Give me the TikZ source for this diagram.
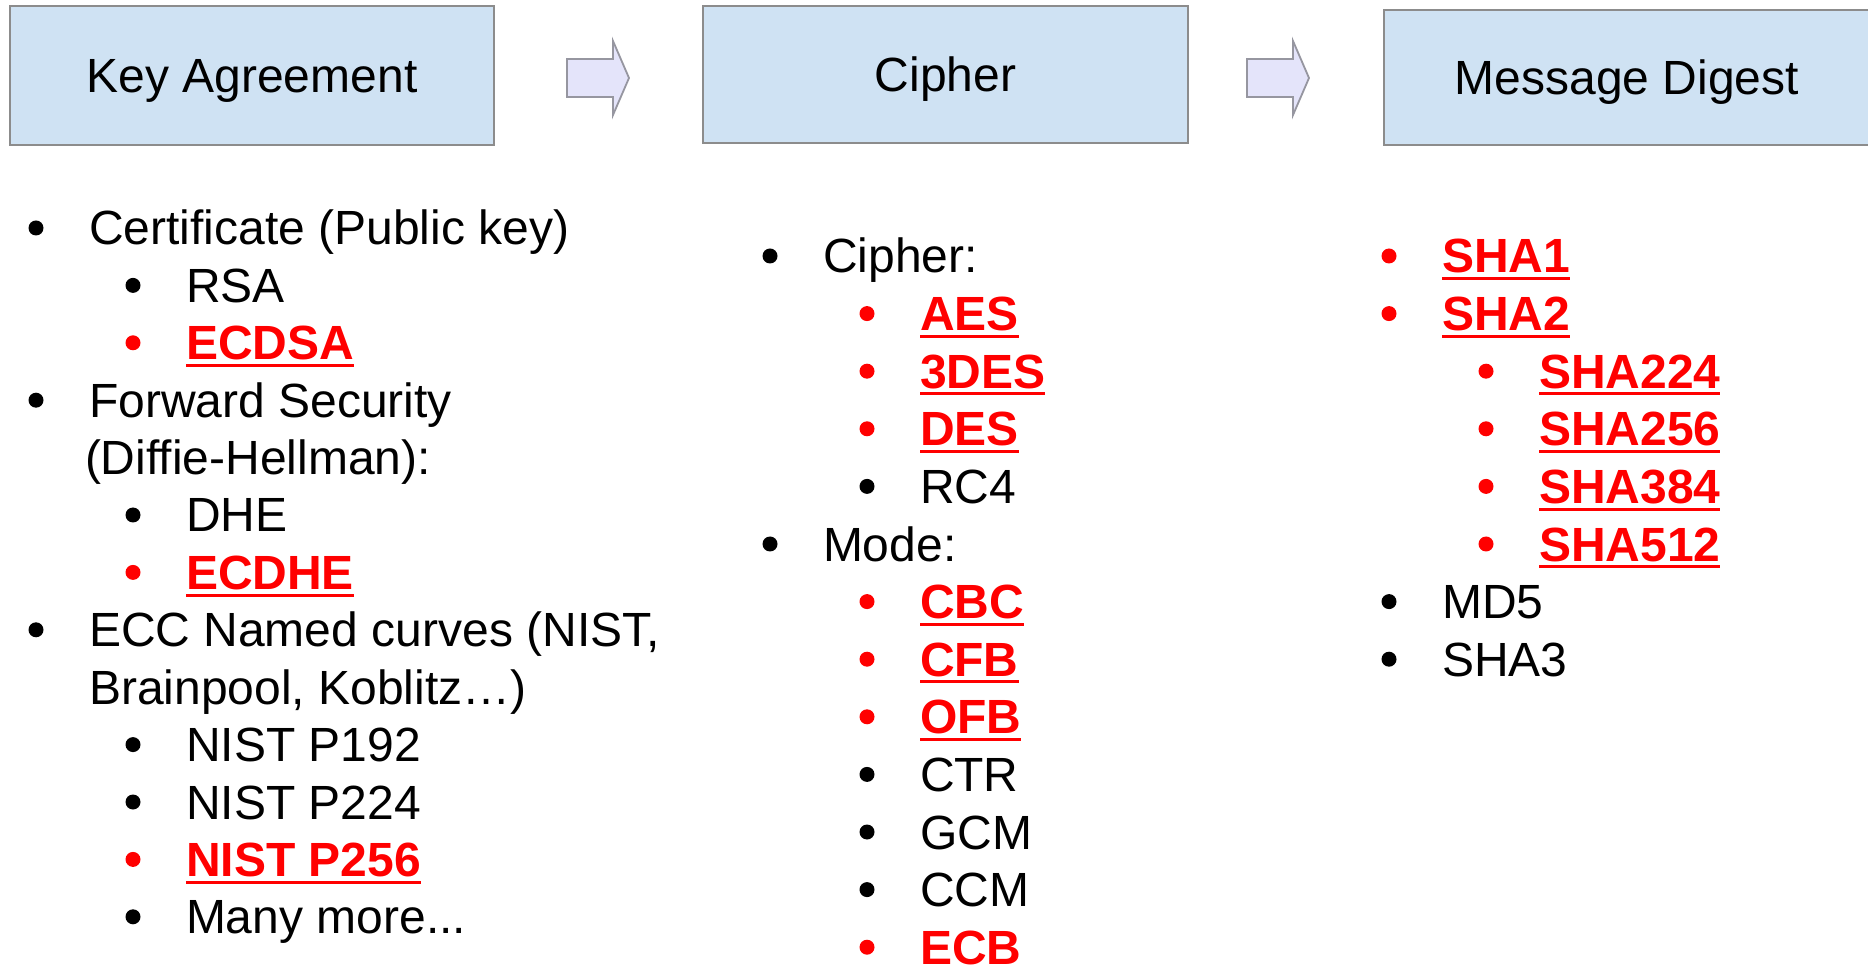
\documentclass[tikz,border=0pt]{standalone}
\usepackage{fontspec}
\setmainfont{Liberation Sans}

\definecolor{boxfill}{RGB}{207,226,243}
\definecolor{boxedge}{RGB}{140,140,140}
\definecolor{arrowfill}{RGB}{228,228,250}
\definecolor{arrowedge}{RGB}{150,150,160}
\definecolor{keyred}{RGB}{255,0,0}

% bullet entry: name, bullet x, baseline y, text
\newcommand{\listentry}[4]{%
  \node[dot] (#1b) at (#2, #3-17) {};
  \node[itemtext] (#1) at (#2+53, #3) {#4};
}
% recommended (red, bold, underlined) entry
\newcommand{\keyentry}[4]{%
  \node[dot, fill=keyred] (#1b) at (#2, #3-17) {};
  \node[itemtext, keytext] (#1) at (#2+53, #3) {#4};
  \draw[uline] ([yshift=-2.85pt]#1.base west) -- ([yshift=-2.85pt]#1.base east);
}

\begin{document}
\begin{tikzpicture}[x=0.5pt, y=-0.5pt,
  every node/.style={inner sep=0pt, outer sep=0pt},
  stage/.style={draw=boxedge, fill=boxfill, line width=1.2pt,
    font=\fontsize{24}{28}\selectfont, text height=17pt, text depth=0pt},
  blockarrow/.style={draw=arrowedge, fill=arrowfill, line width=0.9pt, line join=miter},
  itemtext/.style={anchor=base west, font=\fontsize{24}{28}\selectfont},
  keytext/.style={text=keyred, font=\fontsize{24}{28}\selectfont\bfseries},
  dot/.style={circle, fill=black, draw=none, minimum size=7.5pt},
  uline/.style={draw=keyred, line width=1.5pt}]

\clip (0,0) rectangle (1868,967);
\fill[white] (0,0) rectangle (1868,967);

% stage boxes
\node[stage, minimum width=242pt, minimum height=69.5pt] (ka) at (252,75.5) {Key Agreement};
\node[stage, minimum width=242.5pt, minimum height=68.5pt] (ci) at (945.5,74.5) {Cipher};
\node[stage, minimum width=243pt, minimum height=67.5pt] (md) at (1627,77.5) {Message Digest};

% block arrows between the stages
\coordinate (arrA) at (567,78);
\coordinate (arrB) at (1247,78);
\foreach \a in {arrA,arrB}{
  \draw[blockarrow] (\a) ++(0,-19) -- ++(46,0) -- ++(0,-18) -- ++(16,37)
    -- ++(-16,37) -- ++(0,-18) -- ++(-46,0) -- cycle;
}

% key agreement column
\listentry{cert}{36}{245}{Certificate (Public key)}
\listentry{rsa}{133}{302.4}{RSA}
\keyentry{ecdsa}{133}{359.8}{ECDSA}
\listentry{fwd}{36}{417.2}{Forward Security}
\node[itemtext] (dh) at (85,474.6) {(Diffie-Hellman):};
\listentry{dhe}{133}{532}{DHE}
\keyentry{ecdhe}{133}{589.4}{ECDHE}
\listentry{ecc}{36}{646.8}{ECC Named curves (NIST,}
\node[itemtext] (brain) at (89,704.2) {Brainpool, Koblitz…)};
\listentry{pa}{133}{761.6}{NIST P192}
\listentry{pb}{133}{819}{NIST P224}
\keyentry{pc}{133}{876.4}{NIST P256}
\listentry{more}{133}{933.8}{Many more...}

% cipher column
\listentry{cip}{770}{273}{Cipher:}
\keyentry{aes}{867}{330.6}{AES}
\keyentry{tdes}{867}{388.2}{3DES}
\keyentry{des}{867}{445.8}{DES}
\listentry{rc}{867}{503.4}{RC4}
\listentry{mode}{770}{561}{Mode:}
\keyentry{cbc}{867}{618.6}{CBC}
\keyentry{cfb}{867}{676.2}{CFB}
\keyentry{ofb}{867}{733.8}{OFB}
\listentry{ctr}{867}{791.4}{CTR}
\listentry{gcm}{867}{849}{GCM}
\listentry{ccm}{867}{906.6}{CCM}
\keyentry{ecb}{867}{964.2}{ECB}

% digest column
\keyentry{sha}{1389}{273}{SHA1}
\keyentry{shb}{1389}{330.6}{SHA2}
\keyentry{shc}{1486}{388.2}{SHA224}
\keyentry{shd}{1486}{445.8}{SHA256}
\keyentry{she}{1486}{503.4}{SHA384}
\keyentry{shf}{1486}{561}{SHA512}
\listentry{mdf}{1389}{618.6}{MD5}
\listentry{shg}{1389}{676.2}{SHA3}

\end{tikzpicture}
\end{document}
